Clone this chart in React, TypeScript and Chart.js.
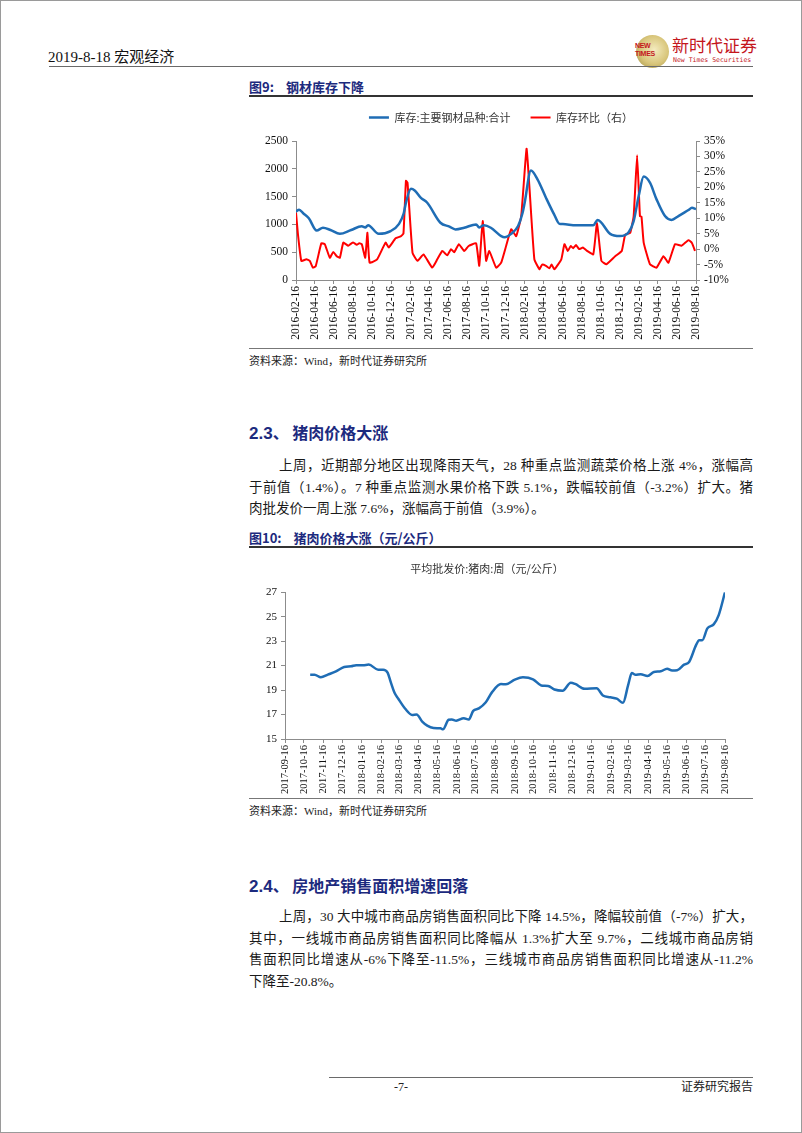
import React, { useEffect, useRef } from "react";
import { Chart, registerables } from "chart.js";
Chart.register(...registerables);

const LATIN = "'Liberation Serif', 'Noto Sans CJK SC', serif";
const SANS = "'Liberation Sans', 'Noto Sans CJK SC', sans-serif";
const NAVY = "#1c2a7e";

// ---------- Figure 9 data ----------
const stockDates = [
  "2016-02-16", "2016-02-26", "2016-03-10", "2016-03-28", "2016-04-22", "2016-05-12", "2016-06-05", "2016-07-05",
  "2016-08-10", "2016-09-13", "2016-09-24", "2016-10-03", "2016-11-06", "2016-12-14", "2017-01-10", "2017-01-25",
  "2017-02-01", "2017-02-17", "2017-03-01", "2017-03-20", "2017-04-10", "2017-05-22", "2017-06-20", "2017-07-09",
  "2017-08-06", "2017-09-13", "2017-09-23", "2017-10-08", "2017-10-30", "2017-12-02", "2017-12-13", "2018-01-03",
  "2018-01-25", "2018-02-08", "2018-02-15", "2018-03-07", "2018-03-28", "2018-04-24", "2018-05-20", "2018-06-06",
  "2018-06-17", "2018-07-29", "2018-09-22", "2018-10-06", "2018-11-15", "2018-12-16", "2019-01-13", "2019-01-29",
  "2019-02-14", "2019-03-02", "2019-03-22", "2019-04-12", "2019-05-09", "2019-05-30", "2019-06-21", "2019-07-23",
  "2019-08-03", "2019-08-16",
];
const stockValues = [
  1230, 1265, 1200, 1110, 890, 940, 900, 830,
  900, 965, 944, 985, 830, 880, 1010, 1200,
  1390, 1640, 1610, 1480, 1390, 1030, 960, 910,
  940, 1000, 945, 985, 940, 790, 770, 830,
  970, 1200, 1390, 1970, 1810, 1480, 1180, 1010,
  1005, 985, 985, 1080, 830, 790, 860, 1060,
  1510, 1860, 1750, 1450, 1150, 1080, 1150, 1258,
  1300, 1275,
];

const ratioDates = [
  "2016-02-16", "2016-02-22", "2016-03-04", "2016-03-20", "2016-03-31", "2016-04-10", "2016-04-19", "2016-05-07",
  "2016-05-18", "2016-06-03", "2016-06-14", "2016-06-25", "2016-07-05", "2016-07-16", "2016-08-01", "2016-08-10",
  "2016-08-17", "2016-08-28", "2016-09-05", "2016-09-13", "2016-09-24", "2016-10-01", "2016-10-08", "2016-11-01",
  "2016-11-28", "2016-12-08", "2016-12-30", "2017-01-15", "2017-01-24", "2017-02-01", "2017-02-06", "2017-02-22",
  "2017-03-10", "2017-03-29", "2017-04-26", "2017-05-12", "2017-05-28", "2017-06-13", "2017-06-25", "2017-07-05",
  "2017-07-20", "2017-08-06", "2017-08-20", "2017-09-13", "2017-09-23", "2017-10-04", "2017-10-15", "2017-10-25",
  "2017-11-16", "2017-12-02", "2017-12-18", "2018-01-03", "2018-01-19", "2018-02-04", "2018-02-21", "2018-03-02",
  "2018-03-18", "2018-04-03", "2018-04-12", "2018-04-24", "2018-05-05", "2018-05-12", "2018-05-21", "2018-06-12",
  "2018-06-22", "2018-07-03", "2018-07-12", "2018-07-20", "2018-07-29", "2018-08-08", "2018-08-20", "2018-09-01",
  "2018-09-22", "2018-10-04", "2018-10-18", "2018-11-03", "2018-12-01", "2018-12-22", "2019-01-02", "2019-01-18",
  "2019-01-29", "2019-02-09", "2019-02-18", "2019-02-23", "2019-03-02", "2019-03-22", "2019-04-12", "2019-05-04",
  "2019-05-20", "2019-06-10", "2019-07-01", "2019-07-23", "2019-08-03", "2019-08-13",
];
const ratioValues = [
  11.8, 5.0, -3.8, -3.3, -3.8, -6.0, -5.5, 1.9,
  1.6, -2.8, -0.9, -2.3, -2.8, 2.1, 1.1, 1.8,
  2.1, 1.4, 1.9, 1.6, -2.8, 5.3, -4.4, -3.3,
  2.1, 0.5, 3.5, 4.1, 5.0, 22.1, 21.5, -1.2,
  -3.8, -1.7, -6.0, -3.3, -0.6, -2.0, 0.0, -1.0,
  1.6, -0.6, 1.0, 1.9, -5.4, 9.1, -3.8, -0.6,
  -6.0, -4.4, 1.1, 6.4, 4.2, 10.7, 32.5, 20.4,
  -3.3, -6.5, -5.0, -5.4, -6.2, -5.0, -6.5, -3.3,
  1.6, -0.6, 1.0, 0.3, 1.3, 0.0, 0.5, -0.5,
  -1.7, 8.4, -3.8, -4.9, -2.3, -0.6, 4.7, 5.3,
  10.7, 30.4, 10.7, 10.5, 2.1, -4.9, -6.0, -2.3,
  -4.4, 1.6, 1.1, 2.9, 2.0, -0.6,
];

const fig9Ticks = [
  "2016-02-16", "2016-04-16", "2016-06-16", "2016-08-16", "2016-10-16", "2016-12-16", "2017-02-16", "2017-04-16",
  "2017-06-16", "2017-08-16", "2017-10-16", "2017-12-16", "2018-02-16", "2018-04-16", "2018-06-16", "2018-08-16",
  "2018-10-16", "2018-12-16", "2019-02-16", "2019-04-16", "2019-06-16", "2019-08-16",
];
const stockTicks = [0, 500, 1000, 1500, 2000, 2500];
const ratioTicks = [-10, -5, 0, 5, 10, 15, 20, 25, 30, 35];

// ---------- Figure 10 data ----------
const porkDates = [
  "2017-10-26", "2017-11-02", "2017-11-12", "2017-11-23", "2017-12-06", "2017-12-19", "2017-12-30", "2018-01-07",
  "2018-01-18", "2018-01-27", "2018-02-11", "2018-02-19", "2018-02-26", "2018-03-03", "2018-03-09", "2018-03-15",
  "2018-03-26", "2018-04-06", "2018-04-13", "2018-04-22", "2018-04-30", "2018-05-10", "2018-05-21", "2018-05-25",
  "2018-06-03", "2018-06-08", "2018-06-15", "2018-06-27", "2018-07-05", "2018-07-12", "2018-07-21", "2018-08-01",
  "2018-08-11", "2018-08-25", "2018-09-02", "2018-09-16", "2018-09-29", "2018-10-15", "2018-10-28", "2018-11-08",
  "2018-11-18", "2018-12-01", "2018-12-14", "2018-12-21", "2019-01-05", "2019-01-24", "2019-02-03", "2019-02-15",
  "2019-02-25", "2019-03-07", "2019-03-15", "2019-03-21", "2019-03-27", "2019-04-04", "2019-04-15", "2019-04-25",
  "2019-05-06", "2019-05-16", "2019-05-24", "2019-06-01", "2019-06-12", "2019-06-20", "2019-07-01", "2019-07-06",
  "2019-07-11", "2019-07-19", "2019-07-29", "2019-08-06", "2019-08-16",
];
const porkValues = [
  20.26, 20.26, 20.04, 20.26, 20.53, 20.89, 20.94, 21.03,
  21.03, 21.08, 20.67, 20.67, 20.43, 19.65, 18.78, 18.29,
  17.47, 16.97, 17.0, 16.42, 16.09, 15.9, 15.87, 15.8,
  16.57, 16.6, 16.5, 16.7, 16.6, 17.3, 17.5, 18.0,
  18.83, 19.49, 19.47, 19.85, 20.04, 19.88, 19.38, 19.33,
  19.05, 18.95, 19.6, 19.5, 19.1, 19.15, 18.56, 18.41,
  18.3, 17.96, 19.38, 20.39, 20.25, 20.3, 20.15, 20.48,
  20.53, 20.75, 20.6, 20.62, 21.08, 21.3, 22.67, 23.08,
  23.08, 24.04, 24.37, 25.13, 27.0,
];
const fig10Ticks = [
  "2017-09-16", "2017-10-16", "2017-11-16", "2017-12-16", "2018-01-16", "2018-02-16", "2018-03-16", "2018-04-16",
  "2018-05-16", "2018-06-16", "2018-07-16", "2018-08-16", "2018-09-16", "2018-10-16", "2018-11-16", "2018-12-16",
  "2019-01-16", "2019-02-16", "2019-03-16", "2019-04-16", "2019-05-16", "2019-06-16", "2019-07-16", "2019-08-16",
];
const porkTicks = [15, 17, 19, 21, 23, 25, 27];

const toMs = (s: string) => Date.UTC(+s.slice(0, 4), +s.slice(5, 7) - 1, +s.slice(8, 10));
const pts = (d: string[], v: number[]) => d.map((s, i) => ({ x: toMs(s), y: v[i] }));

const AXIS = "#8c8c8c";

function dateXAxis(labels: string[], fontSize: number, height: number) {
  const vals = labels.map(toMs);
  const map: Record<string, string> = {};
  vals.forEach((v, i) => (map[String(v)] = labels[i]));
  return {
    type: "linear",
    min: vals[0],
    max: vals[vals.length - 1],
    afterBuildTicks: (s: any) => {
      s.ticks = vals.map((v) => ({ value: v }));
    },
    afterFit: (s: any) => {
      s.height = height;
    },
    ticks: {
      autoSkip: false,
      minRotation: 90,
      maxRotation: 90,
      padding: 2,
      color: "#111",
      font: { family: LATIN, size: fontSize },
      callback: (v: any) => map[String(v)] ?? "",
    },
    grid: { display: true, drawOnChartArea: false, drawTicks: true, tickLength: 4, color: AXIS },
    border: { display: true, color: AXIS },
  };
}

function valueAxis(position: string, values: number[], width: number, fontSize: number, suffix: string) {
  return {
    type: "linear",
    position,
    min: values[0],
    max: values[values.length - 1],
    afterBuildTicks: (s: any) => {
      s.ticks = values.map((v) => ({ value: v }));
    },
    afterFit: (s: any) => {
      s.width = width;
    },
    ticks: {
      autoSkip: false,
      padding: 4,
      color: "#111",
      font: { family: LATIN, size: fontSize },
      callback: (v: any) => `${v}${suffix}`,
    },
    grid: { display: true, drawOnChartArea: false, drawTicks: true, tickLength: 4, color: AXIS },
    border: { display: true, color: AXIS },
  };
}

function makeLegendHeightPlugin(h: number) {
  return {
    id: "legendHeight",
    beforeLayout(chart: any) {
      const lg = chart.legend;
      if (lg && !lg.__patched) {
        const orig = lg.fit.bind(lg);
        lg.fit = function () {
          orig();
          this.height = h;
        };
        lg.__patched = true;
      }
    },
  };
}

function Fig9Chart() {
  const ref = useRef<HTMLCanvasElement>(null);
  useEffect(() => {
    const chart = new Chart(ref.current as HTMLCanvasElement, {
      type: "line",
      data: {
        datasets: [
          {
            label: "库存:主要钢材品种:合计",
            data: pts(stockDates, stockValues),
            borderColor: "#1f6db5",
            backgroundColor: "#1f6db5",
            borderWidth: 2.5,
            pointRadius: 0,
            cubicInterpolationMode: "monotone",
            yAxisID: "y",
          },
          {
            label: "库存环比（右）",
            data: pts(ratioDates, ratioValues),
            borderColor: "#ff0000",
            backgroundColor: "#ff0000",
            borderWidth: 2,
            pointRadius: 0,
            tension: 0.12,
            yAxisID: "y1",
          },
        ],
      },
      options: {
        animation: false,
        responsive: false,
        maintainAspectRatio: false,
        layout: { padding: 0 },
        plugins: {
          legend: {
            display: true,
            position: "top",
            labels: {
              usePointStyle: true,
              pointStyle: "line",
              pointStyleWidth: 20,
              padding: 20,
              color: "#333",
              font: { family: "'Noto Sans CJK SC', sans-serif", size: 11 },
            },
          },
          tooltip: { enabled: false },
        },
        scales: {
          x: dateXAxis(fig9Ticks, 11.5, 66),
          y: valueAxis("left", stockTicks, 47, 11.5, ""),
          y1: valueAxis("right", ratioTicks, 57, 11.5, "%"),
        },
      } as any,
      plugins: [makeLegendHeightPlugin(49)],
    } as any);
    return () => chart.destroy();
  }, []);
  return <canvas ref={ref} width={504} height={254} style={{ position: "absolute", left: 248, top: 91, width: 504, height: 254 }} />;
}

function Fig10Chart() {
  const ref = useRef<HTMLCanvasElement>(null);
  useEffect(() => {
    const chart = new Chart(ref.current as HTMLCanvasElement, {
      type: "line",
      data: {
        datasets: [
          {
            label: "平均批发价:猪肉:周（元/公斤）",
            data: pts(porkDates, porkValues),
            borderColor: "#1f6db5",
            backgroundColor: "#1f6db5",
            borderWidth: 2.5,
            pointRadius: 0,
            cubicInterpolationMode: "monotone",
          },
        ],
      },
      options: {
        animation: false,
        responsive: false,
        maintainAspectRatio: false,
        layout: { padding: { left: 0, right: 28, top: 0, bottom: 0 } },
        plugins: {
          legend: { display: false },
          title: {
            display: true,
            text: "平均批发价:猪肉:周（元/公斤）",
            color: "#333",
            font: { family: "'Noto Sans CJK SC', sans-serif", size: 11, weight: "normal" },
            padding: { top: 10, bottom: 17 },
          },
          tooltip: { enabled: false },
        },
        scales: {
          x: dateXAxis(fig10Ticks, 10.5, 58),
          y: valueAxis("left", porkTicks, 36, 11, ""),
        },
      } as any,
    } as any);
    return () => chart.destroy();
  }, []);
  return <canvas ref={ref} width={504} height={245} style={{ position: "absolute", left: 248, top: 551, width: 504, height: 245 }} />;
}

const abs = (left: number, top: number, extra: React.CSSProperties = {}): React.CSSProperties => ({
  position: "absolute",
  left,
  top,
  ...extra,
});

function Line({ x, y, w, h = 1, c = "#666" }: { x: number; y: number; w: number; h?: number; c?: string }) {
  return <div style={abs(x, y, { width: w, height: h, background: c })} />;
}

function ParaLine({ text, x, y, last = false }: { text: string; x: number; y: number; last?: boolean }) {
  return (
    <div
      style={abs(x, y, {
        width: 752 - x,
        fontFamily: LATIN,
        fontSize: 13.5,
        lineHeight: "20px",
        color: "#1a1a1a",
        whiteSpace: "nowrap",
        textAlign: last ? "left" : "justify",
        textAlignLast: last ? "left" : "justify",
      } as any)}
    >
      {text}
    </div>
  );
}

function SectionHead({ num, text, y }: { num: string; text: string; y: number }) {
  return (
    <div style={abs(248, y, { color: NAVY, fontWeight: "bold", lineHeight: "22px", whiteSpace: "nowrap" })}>
      <span style={{ fontFamily: SANS, fontSize: 17 }}>{num}</span>
      <span style={{ fontFamily: "'Noto Sans CJK SC', sans-serif", fontSize: 16 }}>、 {text}</span>
    </div>
  );
}

function FigTitle({ label, text, y }: { label: string; text: string; y: number }) {
  return (
    <div
      style={abs(248, y, {
        color: NAVY,
        fontWeight: "bold",
        fontSize: 13,
        lineHeight: "18px",
        fontFamily: "'Noto Sans CJK SC', sans-serif",
        whiteSpace: "pre",
      })}
    >
      <span>{label}</span>
      <span style={{ marginLeft: 12 }}>{text}</span>
    </div>
  );
}

function Source({ y }: { y: number }) {
  return (
    <div style={abs(248, y, { fontSize: 11, lineHeight: "14px", color: "#222", fontFamily: LATIN, whiteSpace: "nowrap" })}>
      资料来源：Wind，新时代证券研究所
    </div>
  );
}

export default function App() {
  return (
    <>
      <style>{`body{margin:0;background:#fff}`}</style>
      <div
        style={{
          position: "relative",
          width: 802,
          height: 1133,
          boxSizing: "border-box",
          border: "1px solid #9a9a9a",
          background: "#fff",
          overflow: "hidden",
        }}
      >
        {/* header */}
        <div style={abs(47, 47, { fontFamily: LATIN, fontSize: 15, lineHeight: "18px", color: "#111", whiteSpace: "nowrap" })}>
          2019-8-18 宏观经济
        </div>
        <div
          style={abs(635, 34, {
            width: 33,
            height: 33,
            borderRadius: "50%",
            background: "radial-gradient(circle at 55% 45%, #f4ecc0 0%, #d8c57a 55%, #9c8a3c 100%)",
          })}
        />
        <div style={abs(634, 41, { fontFamily: SANS, fontSize: 7, lineHeight: "8px", color: "#c4161c", fontWeight: "bold", letterSpacing: -0.3 })}>
          NEW
          <br />
          TIMES
        </div>
        <div style={abs(671, 34, { fontFamily: "'Noto Sans CJK SC', serif", fontSize: 17, lineHeight: "20px", color: "#c4161c", whiteSpace: "nowrap" })}>
          新时代证券
        </div>
        <div style={abs(672, 55, { fontFamily: "'DejaVu Sans Mono', monospace", fontSize: 6.5, lineHeight: "8px", color: "#c4161c", whiteSpace: "nowrap" })}>
          New Times Securities
        </div>
        <Line x={48} y={65} w={704} c="#6a6a6a" />

        {/* Figure 9 */}
        <FigTitle label="图9:" text="钢材库存下降" y={77} />
        <Line x={248} y={94} w={504} h={2} c="#333" />
        <Fig9Chart />
        <Line x={248} y={347} w={504} c="#777" />
        <Source y={353} />

        {/* Section 2.3 */}
        <SectionHead num="2.3" text="猪肉价格大涨" y={420} />
        <ParaLine x={278} y={455} text="上周，近期部分地区出现降雨天气，28 种重点监测蔬菜价格上涨 4%，涨幅高" />
        <ParaLine x={248} y={477} text="于前值（1.4%）。7 种重点监测水果价格下跌 5.1%，跌幅较前值（-3.2%）扩大。猪" />
        <ParaLine x={248} y={498} last text="肉批发价一周上涨 7.6%，涨幅高于前值（3.9%）。" />

        {/* Figure 10 */}
        <FigTitle label="图10:" text="猪肉价格大涨（元/公斤）" y={528} />
        <Line x={248} y={545} w={504} h={2} c="#333" />
        <Fig10Chart />
        <Line x={248} y={797} w={504} c="#777" />
        <Source y={803} />

        {/* Section 2.4 */}
        <SectionHead num="2.4" text="房地产销售面积增速回落" y={873} />
        <ParaLine x={278} y={906} text="上周，30 大中城市商品房销售面积同比下降 14.5%，降幅较前值（-7%）扩大，" />
        <ParaLine x={248} y={928} text="其中，一线城市商品房销售面积同比降幅从 1.3%扩大至 9.7%，二线城市商品房销" />
        <ParaLine x={248} y={949} text="售面积同比增速从-6%下降至-11.5%，三线城市商品房销售面积同比增速从-11.2%" />
        <ParaLine x={248} y={971} last text="下降至-20.8%。" />

        {/* footer */}
        <Line x={328} y={1076} w={424} c="#6a6a6a" />
        <div style={abs(393, 1079, { fontFamily: LATIN, fontSize: 12, lineHeight: "14px", color: "#222" })}>-7-</div>
        <div style={abs(680, 1079, { fontFamily: LATIN, fontSize: 12, lineHeight: "14px", color: "#222", whiteSpace: "nowrap" })}>
          证券研究报告
        </div>
      </div>
    </>
  );
}
